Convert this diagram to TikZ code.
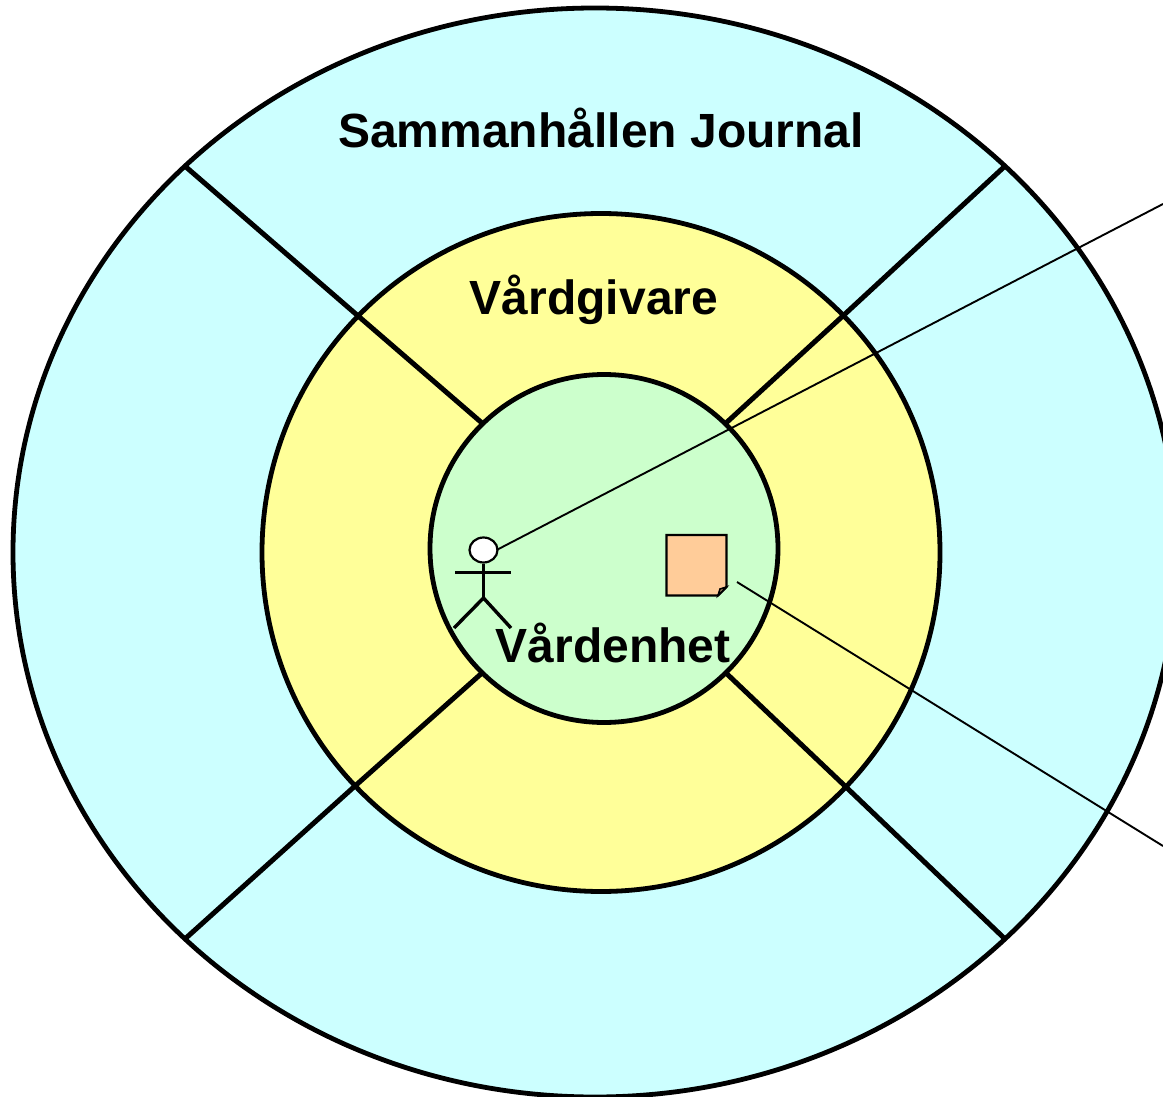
\documentclass[tikz,border=0pt]{standalone}
\usepackage{fontspec}
\usetikzlibrary{shapes.geometric}
\setmainfont{Liberation Sans}
\definecolor{cy}{HTML}{CCFFFF}
\definecolor{ye}{HTML}{FFFF99}
\definecolor{gr}{HTML}{CCFFCC}
\definecolor{or}{HTML}{FFCC99}
\begin{document}
\begin{tikzpicture}[x=1pt,y=-1pt,
  ring/.style={draw=black,line width=4.8pt},
  spoke/.style={draw=black,line width=5pt},
  fineline/.style={draw=black,line width=1.9pt},
  figure/.style={draw=black,line width=3.4pt},
  lab/.style={font=\bfseries\fontsize{48}{54}\selectfont,inner sep=0pt,text=black}]
\useasboundingbox (0,0) rectangle (1163,1097);
\begin{scope}
\clip (0,0) rectangle (1163,1097);
\fill[white] (0,0) rectangle (1163,1097);
\path[ring,fill=cy] (595,552.5) ellipse [x radius=582, y radius=544.5];
\coordinate (o1) at (186,167);
\coordinate (o2) at (1004,167);
\coordinate (o3) at (186,938);
\coordinate (o4) at (1004,938);
\coordinate (i1) at (482,423);
\coordinate (i2) at (726,423);
\coordinate (i3) at (482,673);
\coordinate (i4) at (726,673);
\coordinate (m1) at (357,315);
\coordinate (m2) at (845,314);
\coordinate (m3) at (355,786);
\coordinate (m4) at (846,787);
\draw[spoke] (o1)--(m1);
\draw[spoke] (o2)--(m2);
\draw[spoke] (o3)--(m3);
\draw[spoke] (o4)--(m4);
\path[ring,fill=ye] (601,552.5) ellipse [x radius=339, y radius=339];
\draw[spoke] (m1)--(i1);
\draw[spoke] (m2)--(i2);
\draw[spoke] (m3)--(i3);
\draw[spoke] (m4)--(i4);
\path[ring,fill=gr] (604,548.5) ellipse [x radius=174, y radius=174];
% actor
\node[ellipse,draw=black,line width=2.2pt,fill=white,minimum width=28pt,minimum height=25pt,inner sep=0pt] (hd) at (483.5,550) {};
\coordinate (hip) at (483.5,598);
\coordinate (armL) at (455,572.5);
\coordinate (armR) at (511,572.5);
\coordinate (legL) at (454,628);
\coordinate (legR) at (511,628);
\draw[figure] (hd.south)--(hip);
\draw[figure] (armL)--(armR);
\draw[figure] (legL)--(hip)--(legR);
% note
\path[draw=black,line width=2.4pt,fill=or] (666.5,535) -- (726.5,535) -- (726.5,587) -- (718,595.5) -- (666.5,595.5) -- cycle;
\path[draw=black,line width=1.6pt,fill=or!70!black] (726.5,587) -- (720,589) -- (718,595.5) -- cycle;
% leader lines
\coordinate (c1) at (1163,204);
\coordinate (c2) at (1163,846);
\coordinate (n1) at (737,582);
\draw[fineline] (hd.east)++(-2,0) -- (c1);
\draw[fineline] (n1) -- (c2);
\node[lab,anchor=center] (t1) at (601,128) {Sammanhållen Journal};
\node[lab,anchor=center] (t2) at (594,300) {Vårdgivare};
\node[lab,anchor=center] (t3) at (613,643) {Vårdenhet};
\end{scope}
\end{tikzpicture}
\end{document}
